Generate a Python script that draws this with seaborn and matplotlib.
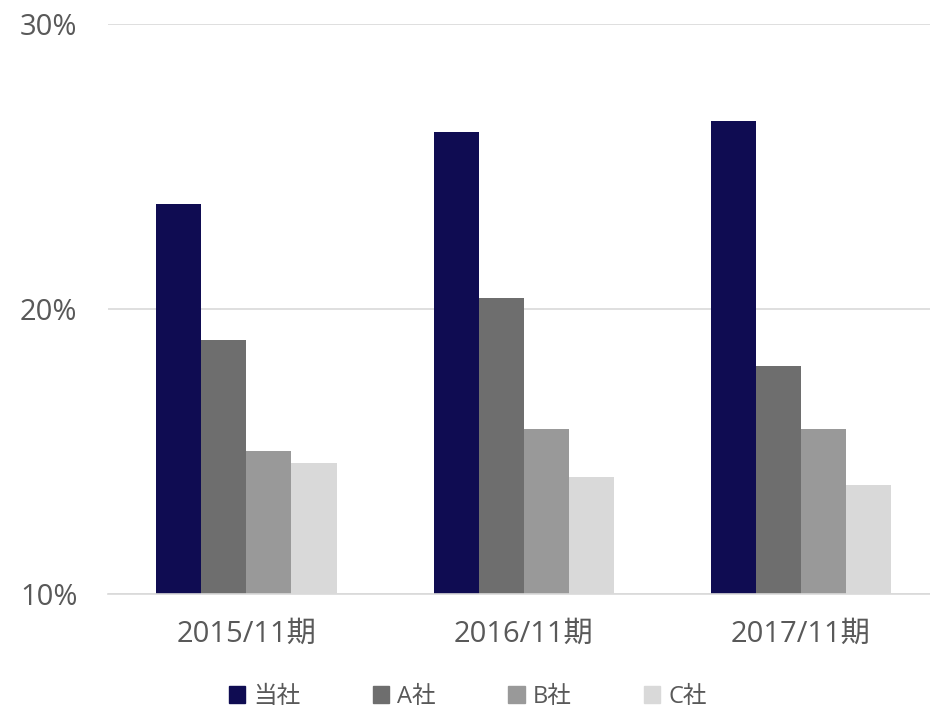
import pandas as pd
import matplotlib.pyplot as plt
import seaborn as sns

periods   = ["2015/11期", "2016/11期", "2017/11期"]
companies = ["当社", "A社", "B社", "C社"]
tosha = [23.7, 26.2, 26.6]
a_sha = [18.9, 20.4, 18.0]
b_sha = [15.0, 15.8, 15.8]
c_sha = [14.6, 14.1, 13.8]
colors = ["#0f0c52", "#6e6e6e", "#999999", "#d9d9d9"]

df = pd.DataFrame({
    "period": periods * 4,
    "company": [c for c in companies for _ in periods],
    "value": tosha + a_sha + b_sha + c_sha,
})

sns.set_theme(style="white")
plt.rcParams["font.family"] = ["Open Sans", "Noto Sans CJK JP", "DejaVu Sans"]
text_color = "#595959"

fig = plt.figure(figsize=(9.3, 7.11), dpi=100)
ax = fig.add_axes([0.116, 0.165, 0.894, 0.801])

sns.barplot(data=df, x="period", y="value", hue="company", palette=colors,
            saturation=1, width=0.65, ax=ax, linewidth=0, legend=False)

ax.set_ylim(10, 30)
ax.set_yticks([10, 20, 30])
ax.set_yticklabels(["10%", "20%", "30%"])
ax.yaxis.grid(True, color="#d9d9d9", linewidth=1.2)
ax.set_axisbelow(True)
for s in ["top", "right", "left"]:
    ax.spines[s].set_visible(False)
ax.spines["bottom"].set_color("#d9d9d9")
ax.spines["bottom"].set_linewidth(1.2)
ax.set_xlabel("")
ax.set_ylabel("")
ax.tick_params(axis="y", length=0, pad=22, labelsize=21, labelcolor=text_color)
ax.tick_params(axis="x", length=0, pad=19, labelsize=21, labelcolor=text_color)

handles = [plt.Rectangle((0, 0), 1, 1, color=c) for c in colors]
fig.legend(handles, companies, loc="center", bbox_to_anchor=(0.503, 0.02), ncol=4,
           frameon=False, fontsize=17, labelcolor=text_color, handlelength=0.7,
           handleheight=0.7, handletextpad=0.35, columnspacing=3.05)

plt.savefig("out.png", dpi=100)
